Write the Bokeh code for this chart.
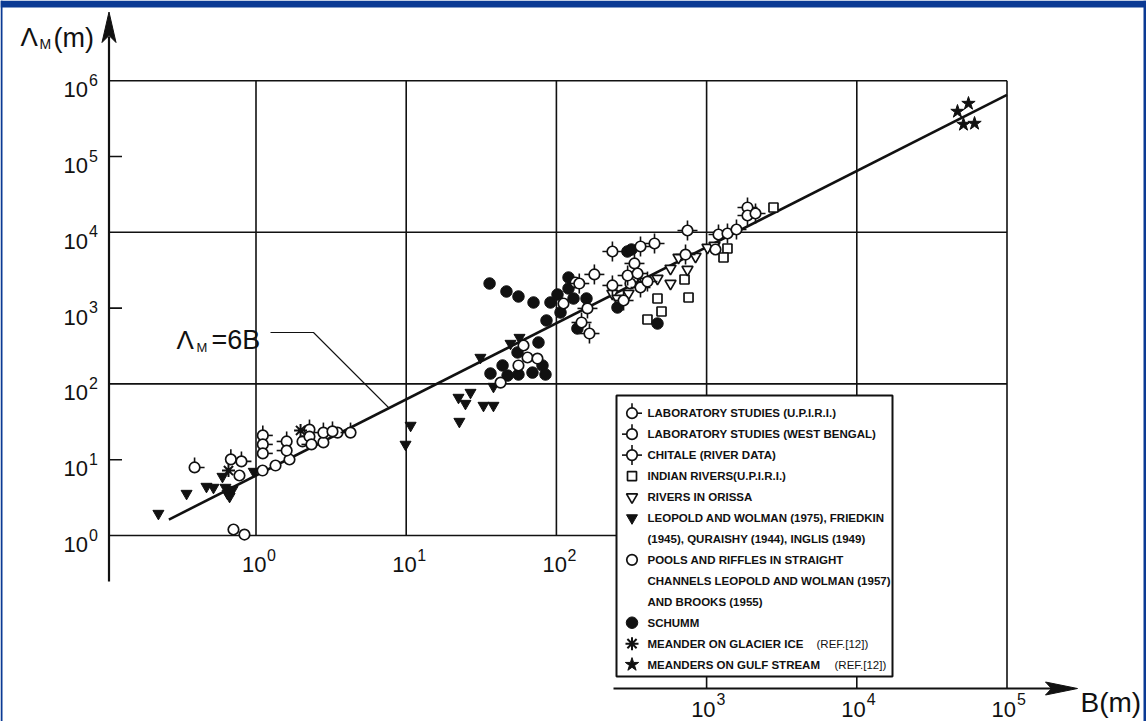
from bokeh.plotting import figure
from bokeh.models import Range1d
from bokeh.core.properties import value
from bokeh.embed import file_html
from bokeh.resources import INLINE

# ---------------- data: B (m), Lambda_M (m) ----------------
lab_upiri_B = [0.39, 0.68, 0.80, 1.11, 1.11, 1.11]
lab_upiri_L = [7.9, 10.1, 9.5, 20.9, 15.9, 12.1]

lab_wb_B = [1.60, 1.60, 2.27, 2.27, 2.34, 2.81, 3.23, 4.26]
lab_wb_L = [17.4, 13.2, 25.0, 20.2, 15.9, 22.8, 23.6, 22.8]

chitale_B = [142, 161, 147, 166, 179, 236, 363, 450, 331, 298, 347, 236, 363, 404, 280,
             746, 724, 1200, 1377, 1581, 1872, 1872, 2117]
chitale_L = [2110, 990, 646, 462, 2780, 5580, 6500, 7120, 3880, 2690, 2860, 1990, 1870, 2240, 1260,
             10560, 5090, 9350, 9640, 10890, 21250, 16660, 17700]

indian_B = [471, 501, 404, 758, 713, 1377, 1296, 2788]
indian_L = [1338, 902, 707, 1380, 2384, 6113, 4650, 21250]

orissa_B = [236, 255, 302, 471, 575, 575, 650, 746, 844, 1014, 1129]
orissa_L = [1558, 1338, 1558, 2458, 3330, 2111, 4650, 3230, 4795, 6302, 6698]

leopold_B = [0.224, 0.345, 0.468, 0.521, 0.598, 0.626, 0.646, 0.698, 0.667, 0.966,
             10.7, 9.9, 22.3, 26.8, 24.8, 22.6, 32.7, 38.1, 38.1, 31.2, 49.5, 56.8]
leopold_L = [1.95, 3.58, 4.43, 4.30, 6.0, 4.30, 3.58, 4.04, 3.27, 6.99,
             28.3, 15.9, 66.2, 77.0, 55.1, 31.9, 51.9, 51.9, 92.4, 223, 341, 409]

pools_B = [0.708, 0.838, 0.776, 1.106, 1.349, 1.671, 2.04, 2.81, 3.49,
           60.4, 64.2, 74.8, 55.9, 42.5, 111.5, 134, 311, 374, 1146]
pools_L = [1.20, 1.03, 6.19, 7.20, 8.38, 10.06, 17.4, 16.9, 22.8,
           321, 223, 216, 175, 104, 1150, 2176, 2111, 2111, 5930]

schumm_B = [35.9, 46.5, 55.9, 70.4, 91.3, 101.7, 120.4, 120.4, 130, 158.6, 85.9, 106.5, 76.0,
            55.1, 36.4, 43.8, 47.3, 55.9, 69.3, 80.8, 84.6, 138, 255, 297, 316, 471]
schumm_L = [2111, 1656, 1422, 1186, 1186, 1511, 2533, 1814, 1338, 1338, 686, 875, 352,
            260, 137, 175, 129, 133, 141, 175, 133, 538, 1018, 5580, 5930, 626]

glacier_B = [0.656, 1.98]
glacier_L = [7.2, 24.3]

gulf_B = [46800, 55400, 51300, 60800]
gulf_L = [392500, 500000, 264500, 272600]

fit_B = [0.263, 1.0e5]
fit_L = [1.62, 6.5e5]

x_exps = [0, 1, 2, 3, 4, 5]
y_exps = [0, 1, 2, 3, 4, 5, 6]

legend_rows = [
    "LABORATORY STUDIES (U.P.I.R.I.)",
    "LABORATORY STUDIES (WEST BENGAL)",
    "CHITALE (RIVER DATA)",
    "INDIAN RIVERS(U.P.I.R.I.)",
    "RIVERS IN ORISSA",
    "LEOPOLD AND WOLMAN (1975), FRIEDKIN",
    "(1945), QURAISHY (1944), INGLIS (1949)",
    "POOLS AND RIFFLES IN STRAIGHT",
    "CHANNELS LEOPOLD AND WOLMAN (1957)",
    "AND BROOKS (1955)",
    "SCHUMM",
    "MEANDER ON GLACIER ICE",
    "MEANDERS ON GULF STREAM",
]
legend_suffix = {11: "(REF.[12])", 12: "(REF.[12])"}

# ---------------- geometry (picture pixels -> data) ----------------
X0, DX = 255.5, 150.2   # x pixel of B=1, pixels per decade
Y0, DY = 535.0, 75.8    # y pixel of L=1, pixels per decade


def bx(X):
    return 10 ** ((X - X0) / DX)


def ly(Y):
    return 10 ** ((Y0 - Y) / DY)


W, H = 1146, 721
p = figure(width=W, height=H, x_axis_type="log", y_axis_type="log",
           x_axis_location=None, y_axis_location=None,
           x_range=Range1d(bx(0), bx(W)), y_range=Range1d(ly(H), ly(0)),
           toolbar_location=None, output_backend="svg", min_border=0)
p.grid.visible = False
p.outline_line_color = None
p.background_fill_color = "white"
p.border_fill_color = "white"

INK = "#111111"
BLUE = "#0b3a94"
FONT = value("Liberation Sans")

# blue slide frame
p.quad(left=[bx(0), bx(0), bx(1143)], right=[bx(W), bx(2), bx(W)],
       top=[ly(0), ly(0), ly(0)], bottom=[ly(7), ly(H), ly(H)],
       fill_color=BLUE, line_color=None)

x_axis_pos = bx(108.5)
low_axis_y = ly(688)
top_val = 10 ** y_exps[-1]

# grid: vertical lines at every decade of B
vx0, vy0, vx1, vy1 = [], [], [], []
for e in x_exps:
    xv = 10 ** e
    vx0.append(xv); vx1.append(xv)
    vy0.append(top_val)
    vy1.append(1.0 if e <= 2 else low_axis_y)
p.segment(vx0, vy0, vx1, vy1, line_color=INK, line_width=1.6)

# grid: horizontal lines at even decades, short ticks at odd
hx0, hy0, hx1, hy1 = [], [], [], []
for e in y_exps:
    yv = 10 ** e
    hx0.append(x_axis_pos); hy0.append(yv); hy1.append(yv)
    if e % 2 == 1:
        hx1.append(bx(121.5))
    elif e == 0:
        hx1.append(bx(616))
    else:
        hx1.append(10 ** x_exps[-1])
p.segment(hx0, hy0, hx1, hy1, line_color=INK, line_width=1.6)

# axes with arrows
p.line([x_axis_pos, x_axis_pos], [ly(581), ly(36)], line_color=INK, line_width=2.2)
p.patch([x_axis_pos, bx(115.5), x_axis_pos, bx(101.5)], [ly(11.5), ly(42), ly(35), ly(42)],
        fill_color=INK, line_color=INK, line_width=1)
p.line([bx(613), bx(1052)], [low_axis_y, low_axis_y], line_color=INK, line_width=2.2)
p.patch([bx(1077), bx(1045), bx(1051), bx(1045)], [low_axis_y, ly(681.5), low_axis_y, ly(694.5)],
        fill_color=INK, line_color=INK, line_width=1)

# fitted line and leader
p.line(fit_B, fit_L, line_color=INK, line_width=2.6)
p.line([bx(270), bx(313), bx(388)], [ly(332), ly(332), ly(407)], line_color=INK, line_width=1.1)

# ---------------- markers ----------------
TICK = 10.0
fx = 10 ** (TICK / DX)
fy = 10 ** (TICK / DY)


def tick_circles(Bs, Ls, sides, size=10.5):
    x0, y0, x1, y1 = [], [], [], []
    for b, l in zip(Bs, Ls):
        for s in sides:
            x0.append(b); y0.append(l)
            if s == "t":
                x1.append(b); y1.append(l * fy)
            elif s == "b":
                x1.append(b); y1.append(l / fy)
            elif s == "r":
                x1.append(b * fx); y1.append(l)
            else:
                x1.append(b / fx); y1.append(l)
    p.segment(x0, y0, x1, y1, line_color=INK, line_width=1.6)
    p.scatter(Bs, Ls, marker="circle", size=size, fill_color="white", line_color=INK, line_width=1.7)


def open_mark(Bs, Ls, marker, size):
    p.scatter(Bs, Ls, marker=marker, size=size, fill_color="white", line_color=INK, line_width=1.7)


def filled_mark(Bs, Ls, marker, size):
    p.scatter(Bs, Ls, marker=marker, size=size, fill_color=INK, line_color=INK, line_width=1)


open_mark(indian_B, indian_L, "square", 9)
open_mark(orissa_B, orissa_L, "inverted_triangle", 11)
filled_mark(leopold_B, leopold_L, "inverted_triangle", 11)
filled_mark(schumm_B, schumm_L, "circle", 11.5)
open_mark(pools_B, pools_L, "circle", 10.5)
tick_circles(chitale_B, chitale_L, "tbrl")
tick_circles(lab_upiri_B, lab_upiri_L, "tr")
tick_circles(lab_wb_B, lab_wb_L, "tl")
p.scatter(glacier_B, glacier_L, marker="asterisk", size=13, line_color=INK, line_width=2)
filled_mark(gulf_B, gulf_L, "star", 14)

# ---------------- legend ----------------
p.quad(left=[bx(616)], right=[bx(892)], top=[ly(395)], bottom=[ly(676)],
       fill_color="white", line_color=INK, line_width=2)
row_y = [ly(412.7 + 20.95 * i) for i in range(len(legend_rows))]
mx = bx(631.5)
tick_circles([mx], [row_y[0]], "tr")
tick_circles([mx], [row_y[1]], "tl")
tick_circles([mx], [row_y[2]], "tbrl")
open_mark([mx], [row_y[3]], "square", 9)
open_mark([mx], [row_y[4]], "inverted_triangle", 11)
filled_mark([mx], [row_y[5]], "inverted_triangle", 11)
open_mark([mx], [row_y[7]], "circle", 10.5)
filled_mark([mx], [row_y[10]], "circle", 11.5)
p.scatter([mx], [row_y[11]], marker="asterisk", size=13, line_color=INK, line_width=2)
filled_mark([mx], [row_y[12]], "star", 14)

p.text(x=[bx(647)] * len(legend_rows), y=row_y, text=legend_rows,
       text_font=FONT, text_font_size=value("11.5px"), text_font_style="bold",
       text_align="left", text_baseline="middle", text_color=INK)
suf_x = {11: 816, 12: 834}
p.text(x=[bx(suf_x[k]) for k in legend_suffix], y=[row_y[k] for k in legend_suffix],
       text=[legend_suffix[k] for k in legend_suffix],
       text_font=FONT, text_font_size=value("11.5px"),
       text_align="left", text_baseline="middle", text_color=INK)


# ---------------- tick labels ----------------
def label(xs, ys, texts, size, align, xo, yo):
    p.text(x=xs, y=ys, text=texts, text_font=FONT, text_font_size=value(f"{size}px"),
           text_align=align, text_baseline="alphabetic", x_offset=xo, y_offset=yo,
           text_color=INK)


ylab_x = bx(87.5)
label([ylab_x] * len(y_exps), [10 ** e for e in y_exps], ["10"] * len(y_exps), 22, "right", 0, 9)
label([ylab_x] * len(y_exps), [10 ** e for e in y_exps], [str(e) for e in y_exps], 16, "left", 1, -1)

up = [e for e in x_exps if e <= 2]
lo = [e for e in x_exps if e >= 3]
label([10 ** e for e in up], [1.0] * len(up), ["10"] * len(up), 22, "right", 10.5, 29)
label([10 ** e for e in up], [1.0] * len(up), [str(e) for e in up], 16, "left", 11, 19)
label([10 ** e for e in lo], [low_axis_y] * len(lo), ["10"] * len(lo), 22, "right", 9, 21)
label([10 ** e for e in lo], [low_axis_y] * len(lo), [str(e) for e in lo], 16, "left", 10, 10)

# axis titles and the equation label
label([bx(20)], [ly(36)], ["\u039b"], 26, "left", 0, 0)
label([bx(39)], [ly(43)], ["M"], 14, "left", 0, 0)
label([bx(53)], [ly(37)], ["(m)"], 27, "left", 0, 0)
label([bx(1080)], [ly(702)], ["B(m)"], 28, "left", 0, 0)

label([bx(176)], [ly(339)], ["\u039b"], 26, "left", 0, 0)
label([bx(196)], [ly(347)], ["M"], 13, "left", 0, 0)
label([bx(211)], [ly(339)], ["=6B"], 27, "left", 0, 0)

open("out.html", "w").write(file_html(p, INLINE))
